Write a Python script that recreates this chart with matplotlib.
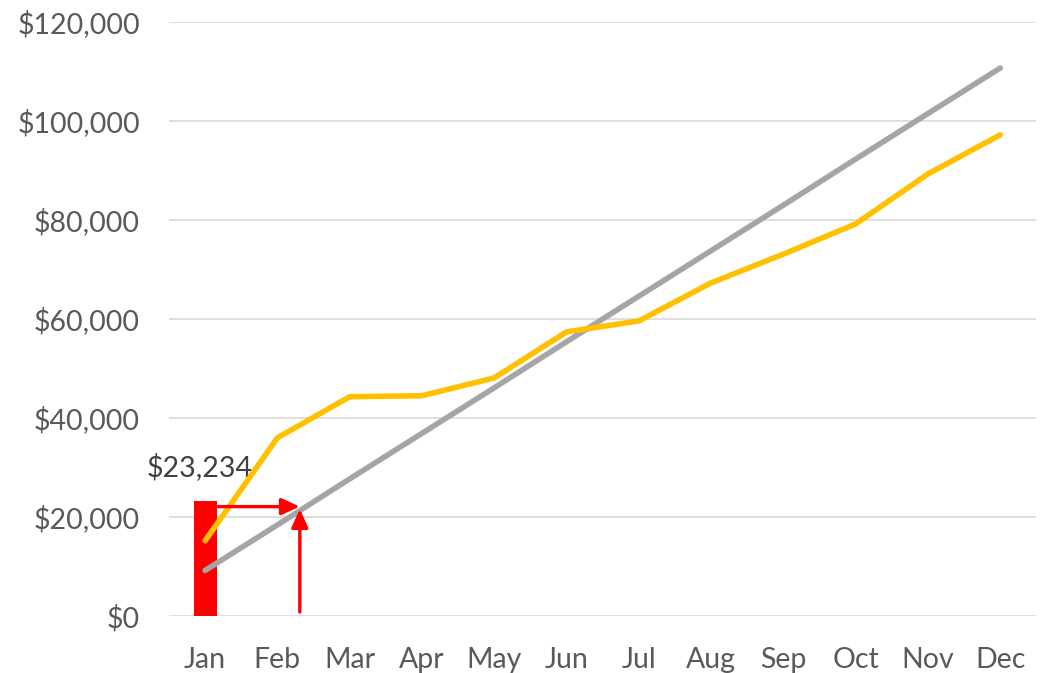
import matplotlib
matplotlib.use("Agg")
import matplotlib.pyplot as plt
import numpy as np

months = ["Jan", "Feb", "Mar", "Apr", "May", "Jun", "Jul", "Aug", "Sep", "Oct", "Nov", "Dec"]
actual = [15200, 36000, 44300, 44500, 48100, 57400, 59600, 67300, 73100, 79200, 89300, 97200]
target = [9200, 18400, 27700, 36900, 46100, 55400, 64600, 73800, 83000, 92300, 101500, 110700]
bar_value = 23234
bar_label = "$23,234"
arrow_point = (1.31, 22100)

plt.rcParams['font.family'] = ['Lato', 'DejaVu Sans']

fig = plt.figure(figsize=(10.45, 6.73), dpi=100)
ax = fig.add_axes([0.1617, 0.0847, 0.830, 0.8826])

x = np.arange(len(months))
ax.bar([0], [bar_value], width=0.32, color="#FF0000", zorder=2)
ax.plot(x, target, color="#A5A5A5", lw=4, solid_capstyle="round", zorder=3)
ax.plot(x, actual, color="#FFC000", lw=4, solid_capstyle="round", zorder=4)

ax.text(-0.08, bar_value + 6800, bar_label, ha="center", va="center", fontsize=20.5, color="#404040")

ax.annotate("", xy=arrow_point, xytext=(0.18, arrow_point[1]),
            arrowprops=dict(arrowstyle="-|>,head_length=1.1,head_width=0.5", color="#FF0000", lw=2.4, shrinkA=0, shrinkB=0), zorder=5)
ax.annotate("", xy=(arrow_point[0], arrow_point[1] - 500), xytext=(arrow_point[0], 800),
            arrowprops=dict(arrowstyle="-|>,head_length=1.1,head_width=0.5", color="#FF0000", lw=2.4, shrinkA=0, shrinkB=0), zorder=5)

ax.set_xlim(-0.5, 11.5)
ax.set_ylim(0, 120000)
ax.set_yticks(np.arange(0, 120001, 20000))
ax.set_yticklabels([f"${v:,.0f}" for v in np.arange(0, 120001, 20000)])
ax.set_xticks(x)
ax.set_xticklabels(months)
ax.grid(axis="y", color="#D9D9D9", lw=1.2, zorder=0)
ax.set_axisbelow(True)
for s in ax.spines.values():
    s.set_visible(False)
ax.tick_params(axis="both", length=0, labelsize=20.5, colors="#595959")
ax.tick_params(axis="y", pad=21)
ax.tick_params(axis="x", pad=22)

fig.savefig("out.png", dpi=100)
